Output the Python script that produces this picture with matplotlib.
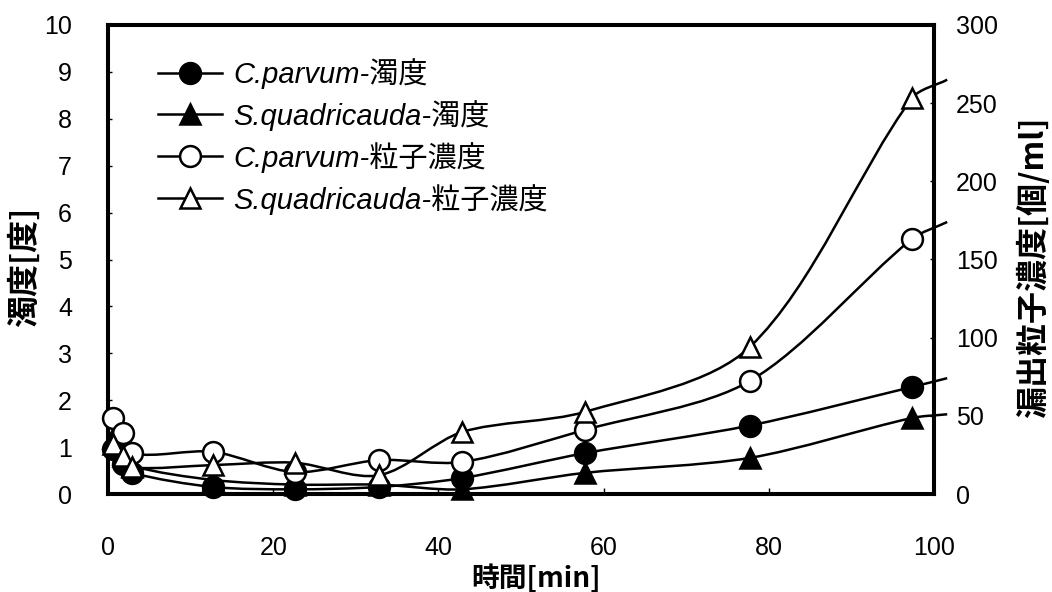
import numpy as np
import matplotlib
matplotlib.use('Agg')
import matplotlib.pyplot as plt
from matplotlib.path import Path
from matplotlib.patches import PathPatch
from matplotlib.lines import Line2D
from matplotlib.font_manager import FontProperties

# ---- data ----
time_min = [0.6, 1.8, 2.9, 12.7, 22.6, 32.8, 42.9, 57.7, 77.7, 97.3]
time_tail = 101.6          # lines run on past the frame to here
cp_turb = [0.95, 0.65, 0.45, 0.15, 0.10, 0.15, 0.34, 0.87, 1.46, 2.28]
cp_turb_tail = 2.47
sq_turb = [1.20, 0.85, 0.60, 0.30, 0.20, 0.20, 0.10, 0.45, 0.77, 1.62]
sq_turb_tail = 1.70
cp_part = [48.6, 39.0, 26.0, 27.0, 14.0, 21.7, 20.5, 41.0, 72.3, 163.0]
cp_part_tail = 174.0
sq_part = [32.0, 24.0, 17.0, 18.5, 20.0, 12.0, 39.7, 52.5, 94.0, 253.0]
sq_part_tail = 265.0

labels = ['C.parvum-濁度', 'S.quadricauda-濁度',
          'C.parvum-粒子濃度', 'S.quadricauda-粒子濃度']
xticks = [0, 20, 40, 60, 80, 100]
yticks_left = list(range(0, 11))
yticks_right = [0, 50, 100, 150, 200, 250, 300]

CJK = ['Noto Sans CJK JP', 'DejaVu Sans']
NUM = ['Liberation Sans', 'DejaVu Sans']

fig = plt.figure(figsize=(10.52, 5.92), dpi=100)
ax = fig.add_axes([108/1052, 1-494/592, (934-108)/1052, (494-25)/592])
ax2 = ax.twinx()
ax.set_xlim(0, 100)
ax.set_ylim(0, 10)
ax2.set_ylim(0, 300)

for a in (ax, ax2):
    for s in a.spines.values():
        s.set_linewidth(2.9)
        s.set_color('black')
    a.set_facecolor('none')

def smooth_path(axis, xs, ys, t=0.9):
    pts = axis.transData.transform(np.column_stack([xs, ys]))
    n = len(pts)
    dirs = []
    for i in range(n):
        if i == 0:
            d = pts[1] - pts[0]
        elif i == n - 1:
            d = pts[-1] - pts[-2]
        else:
            d = pts[i + 1] - pts[i - 1]
        nrm = np.hypot(*d)
        dirs.append(d / nrm if nrm > 0 else d)
    verts = [pts[0]]
    codes = [Path.MOVETO]
    for i in range(n - 1):
        L = np.hypot(*(pts[i + 1] - pts[i]))
        c1 = pts[i] + dirs[i] * L * t / 3.0
        c2 = pts[i + 1] - dirs[i + 1] * L * t / 3.0
        verts += [c1, c2, pts[i + 1]]
        codes += [Path.CURVE4] * 3
    verts = axis.transData.inverted().transform(np.array(verts))
    return Path(verts, codes)

series = [
    (ax, cp_turb, cp_turb_tail, 'o', 'black'),
    (ax, sq_turb, sq_turb_tail, '^', 'black'),
    (ax2, cp_part, cp_part_tail, 'o', 'white'),
    (ax2, sq_part, sq_part_tail, '^', 'white'),
]
LW = 1.8
MS = 15
handles = []
for k, (a, ys, tail, mk, fc) in enumerate(series):
    z = 3 + k
    path = smooth_path(a, time_min + [time_tail], ys + [tail])
    a.add_patch(PathPatch(path, transform=a.transData, fill=False,
                          lw=LW, edgecolor='black', clip_on=False, zorder=z))
    a.plot(time_min, ys, linestyle='none', marker=mk, ms=MS,
           mfc=fc, mec='black', mew=1.8, zorder=z + 0.5, clip_on=False)
    handles.append(Line2D([], [], color='black', lw=LW, marker=mk, ms=MS,
                          mfc=fc, mec='black', mew=1.8))

ax.set_xticks(xticks)
ax.set_xticklabels([str(t) for t in xticks], fontfamily=NUM, fontsize=18)
ax.set_yticks(yticks_left)
ax.set_yticklabels([str(t) for t in yticks_left], fontfamily=NUM, fontsize=18)
ax2.set_yticks(yticks_right)
ax2.set_yticklabels([str(t) for t in yticks_right], fontfamily=NUM, fontsize=18)
ax.tick_params(axis='x', direction='in', length=4, width=1, pad=30)
ax.tick_params(axis='y', direction='in', length=3, width=1, pad=26)
ax2.tick_params(axis='y', direction='in', length=3, width=1, pad=16)

ax.set_xlabel('時間[min]', fontfamily=CJK, fontsize=20, fontweight='bold', va='center')
ax.xaxis.set_label_coords((536-108)/826, -(578-494)/469)
ax.set_ylabel('濁度[度]', fontfamily=CJK, fontsize=23, fontweight='bold', va='center')
ax.yaxis.set_label_coords(-(108-25)/826, (494-267)/469)
ax2.set_ylabel('漏出粒子濃度[個/ml]', fontfamily=CJK, fontsize=23, fontweight='bold',
               va='center', rotation=90)
ax2.yaxis.set_label_coords((1033-108)/826, (494-267)/469)

leg_font = FontProperties(family=['Liberation Sans', 'Noto Sans CJK JP'],
                          style='italic', size=21)
leg = ax.legend(handles, labels, loc='upper left', prop=leg_font, frameon=False,
                bbox_to_anchor=(152/1052, 1-52/592), bbox_transform=fig.transFigure,
                handlelength=2.2, handletextpad=0.4, labelspacing=0.38,
                borderpad=0.2, borderaxespad=0)
leg.set_zorder(10)

fig.savefig('out.png', dpi=100)
